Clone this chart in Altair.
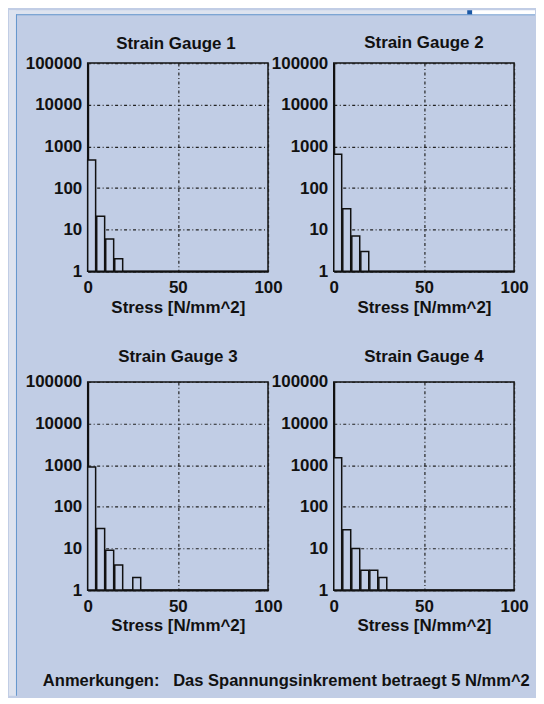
import altair as alt
import pandas as pd

# ---- data ----
titles = ["Strain Gauge 1", "Strain Gauge 2", "Strain Gauge 3", "Strain Gauge 4"]
bin_starts_1 = [0, 5, 10, 15]
counts_1 = [470, 21, 6, 2]
bin_starts_2 = [0, 5, 10, 15]
counts_2 = [650, 32, 7, 3]
bin_starts_3 = [0, 5, 10, 15, 25]
counts_3 = [900, 30, 9, 4, 2]
bin_starts_4 = [0, 5, 10, 15, 20, 25]
counts_4 = [1500, 28, 10, 3, 3, 2]
y_ticks = [1, 10, 100, 1000, 10000, 100000]
x_ticks = [0, 50, 100]
x_title = "Stress [N/mm^2]"
footer = "Anmerkungen:\u00a0\u00a0 Das Spannungsinkrement betraegt 5 N/mm^2"

PANEL = "#c1cde5"
OUTER = "#dde3ef"
BLUE = "#6496cd"
DARKBLUE = "#1b58a5"
FONT = "Liberation Sans"
INK = "#111111"

W, H = 181, 209


def deco(x1, x2, y1, y2, color):
    return alt.Chart(alt.Data(values=[{}])).mark_rect(fill=color, strokeWidth=0).encode(
        x=alt.value(x1), x2=alt.value(x2), y=alt.value(y1), y2=alt.value(y2)
    )


def panel(title, starts, counts, extra=None, title_offset=0, use_title=True):
    df = pd.DataFrame({"start": starts, "count": counts})
    bars = (
        alt.Chart(df)
        .transform_calculate(end="datum.start + 4.4", base="1")
        .mark_rect(fill=PANEL, stroke=INK, strokeWidth=1.5)
        .encode(
            x=alt.X(
                "start:Q",
                scale=alt.Scale(domain=[0, 100], nice=False, zero=False),
                axis=alt.Axis(values=x_ticks, title=x_title, labelFlush=False,
                              labelOverlap=False, labelPadding=8, titlePadding=4),
            ),
            x2="end:Q",
            y=alt.Y(
                "count:Q",
                scale=alt.Scale(type="log", domain=[1, 100000], nice=False),
                axis=alt.Axis(values=y_ticks, format="d", title=None, labelFlush=False,
                              labelOverlap=False, labelPadding=6),
            ),
            y2="base:Q",
        )
    )
    layers = (extra or []) + [bars]
    ch = alt.layer(*layers).properties(width=W, height=H)
    if use_title:
        ch = ch.properties(title=alt.TitleParams(title, offset=title_offset))
    return ch


# outer page frame (left / top strips, border lines, white tab at top right)
frame = [
    deco(-79, -72, -53, 635, OUTER),
    deco(-72, -71, -49, 635, BLUE),
    deco(-79, 381, -53, -49, OUTER),
    deco(-72, 449, -49, -48, BLUE),
    deco(381, 386, -53, -49, DARKBLUE),
    deco(386, 449, -53, -49, "#ffffff"),
]

# title of the first panel drawn as text so the frame does not push it upward
title1 = alt.Chart(alt.Data(values=[{}])).mark_text(
    text=titles[0], align="center", baseline="alphabetic", font=FONT,
    fontSize=17, fontWeight="bold", color=INK
).encode(x=alt.value(W / 2 - 2), y=alt.value(-14))

note = alt.Chart(alt.Data(values=[{}])).mark_text(
    text=footer, align="left", baseline="alphabetic", font=FONT,
    fontSize=16.6, fontWeight="bold", color=INK
).encode(x=alt.value(-45), y=alt.value(305))

p1 = panel(titles[0], bin_starts_1, counts_1, frame + [title1], use_title=False)
p2 = panel(titles[1], bin_starts_2, counts_2, title_offset=2)
p3 = panel(titles[2], bin_starts_3, counts_3, [note], title_offset=7)
p4 = panel(titles[3], bin_starts_4, counts_4, title_offset=7)

chart = (
    alt.concat(p1, p2, p3, p4, columns=2, spacing={"row": 111, "column": 66}, bounds="flush")
    .properties(background=PANEL, padding=0)
    .configure_view(stroke=INK, strokeWidth=1.5)
    .configure_axis(
        labelFont=FONT, labelFontSize=17, labelFontWeight="bold", labelColor=INK,
        titleFont=FONT, titleFontSize=17, titleFontWeight="bold", titleColor=INK,
        domainColor=INK, domainWidth=2, ticks=False,
        grid=True, gridColor="#222222", gridDash=[3, 2.5, 1, 2.5], gridWidth=1.2, gridOpacity=1,
    )
    .configure_title(font=FONT, fontSize=17, fontWeight="bold", color=INK, anchor="middle")
)

chart.save("out.html", embed_options={"renderer": "svg", "actions": False})
